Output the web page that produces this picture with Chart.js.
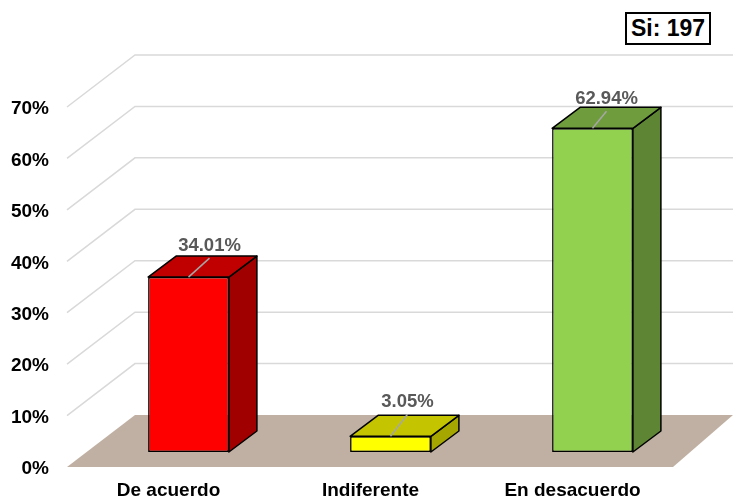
<!DOCTYPE html>
<html>
<head>
<meta charset="utf-8">
<script src="https://cdn.jsdelivr.net/npm/chart.js@4"></script>
<style>
    body { margin: 0; background: #fff; }
    #wrap { position: relative; width: 733px; height: 499px; overflow: hidden; }
    #total {
        position: absolute; left: 625px; top: 12px; width: 82px; height: 29px;
        border: 2px solid #000; background: #fff; color: #000;
        font: bold 23px 'Liberation Sans', Arial, sans-serif;
        line-height: 29px; text-align: center;
    }
</style>
</head>
<body>
<div id="wrap">
    <canvas id="chart" width="733" height="499"></canvas>
    <div id="total">Si: 197</div>
</div>
<script>
const categories = ['De acuerdo', 'Indiferente', 'En desacuerdo'];
const values = [34.01, 3.05, 62.94];
const valueLabels = ['34.01%', '3.05%', '62.94%'];
const frontColors = ['#ff0000', '#ffff00', '#92d050'];
const topColors = ['#c00000', '#c4c400', '#6f9c3c'];
const sideColors = ['#a00000', '#a6a600', '#5e8534'];

const FONT = "'Liberation Sans', Arial, sans-serif";
const GRID = '#d9d9d9';

// depth of the fake 3d, in px
const barDepth = { x: 28, y: -21 };
const wall = { frontX: 67, backX: 135, frontDy: 15, backDy: -37, right: 733 };
// where each value label sits relative to the bar's top front centre
const labelDx = [21, 17, 14];
const labelDy = [-31, -34, -29];

const scene3d = {
    id: 'scene3d',
    beforeDatasetsDraw(chart) {
        const { ctx, scales: { y } } = chart;
        ctx.save();

        // back wall lines with their diagonal on the side wall
        ctx.strokeStyle = GRID;
        ctx.lineWidth = 1.5;
        y.ticks.forEach(t => {
            const py = y.getPixelForValue(t.value);
            if (t.value === 0) return;
            ctx.beginPath();
            ctx.moveTo(wall.frontX, py + wall.frontDy);
            ctx.lineTo(wall.backX, py + wall.backDy);
            ctx.lineTo(wall.right, py + wall.backDy);
            ctx.stroke();
        });

        // floor
        const base = y.getPixelForValue(0);
        ctx.fillStyle = '#c0b0a3';
        ctx.beginPath();
        ctx.moveTo(wall.frontX, base + wall.frontDy);
        ctx.lineTo(wall.backX, base + wall.backDy);
        ctx.lineTo(wall.right, base + wall.backDy);
        ctx.lineTo(673, base + wall.frontDy);
        ctx.closePath();
        ctx.fill();
        ctx.restore();
    },
    afterDatasetsDraw(chart) {
        const { ctx } = chart;
        const bars = chart.getDatasetMeta(0).data;
        ctx.save();
        ctx.lineWidth = 1.5;
        ctx.strokeStyle = '#000';
        ctx.lineJoin = 'round';

        bars.forEach((bar, i) => {
            const left = bar.x - bar.width / 2;
            const right = bar.x + bar.width / 2;
            const top = bar.y;
            const bottom = bar.base;

            // right side
            ctx.fillStyle = sideColors[i];
            ctx.beginPath();
            ctx.moveTo(right, top);
            ctx.lineTo(right + barDepth.x, top + barDepth.y);
            ctx.lineTo(right + barDepth.x, bottom + barDepth.y);
            ctx.lineTo(right, bottom);
            ctx.closePath();
            ctx.fill();
            ctx.stroke();

            // top
            ctx.fillStyle = topColors[i];
            ctx.beginPath();
            ctx.moveTo(left, top);
            ctx.lineTo(left + barDepth.x, top + barDepth.y);
            ctx.lineTo(right + barDepth.x, top + barDepth.y);
            ctx.lineTo(right, top);
            ctx.closePath();
            ctx.fill();
            ctx.stroke();

            // leader line + value label
            const lx = bar.x + labelDx[i];
            const ly = top + labelDy[i];
            ctx.save();
            ctx.strokeStyle = '#a6a6a6';
            ctx.lineWidth = 1.5;
            ctx.beginPath();
            ctx.moveTo(bar.x, top);
            ctx.lineTo(lx, ly + 12);
            ctx.stroke();
            ctx.restore();

            ctx.fillStyle = '#595959';
            ctx.font = 'bold 18.5px ' + FONT;
            ctx.textAlign = 'center';
            ctx.textBaseline = 'middle';
            ctx.fillText(valueLabels[i], lx, ly);
        });
        ctx.restore();
    }
};

new Chart(document.getElementById('chart'), {
    type: 'bar',
    data: {
        labels: categories,
        datasets: [{
            data: values,
            backgroundColor: frontColors,
            borderColor: '#000',
            borderWidth: 1.5,
            borderSkipped: false,
            barPercentage: 0.4,
            categoryPercentage: 1
        }]
    },
    options: {
        responsive: false,
        animation: false,
        layout: { padding: { top: 92, right: 39.5, left: 0, bottom: 0 } },
        plugins: { legend: { display: false }, tooltip: { enabled: false } },
        scales: {
            x: {
                grid: { display: false },
                border: { display: false },
                afterFit: scale => { scale.height = 47; scale.paddingLeft = 0; scale.paddingRight = 0; },
                ticks: {
                    color: '#000',
                    font: { family: FONT, size: 19, weight: 'bold' },
                    padding: 19,
                    labelOffset: -20,
                    maxRotation: 0
                }
            },
            y: {
                min: 0,
                max: 70,
                grid: { display: false, drawTicks: false },
                border: { display: false },
                afterFit: scale => { scale.width = 87.5; scale.paddingTop = 0; scale.paddingBottom = 0; },
                ticks: {
                    stepSize: 10,
                    color: '#000',
                    font: { family: FONT, size: 19, weight: 'bold' },
                    padding: 38.5,
                    labelOffset: 17,
                    callback: v => v + '%'
                }
            }
        }
    },
    plugins: [scene3d]
});
</script>
</body>
</html>
